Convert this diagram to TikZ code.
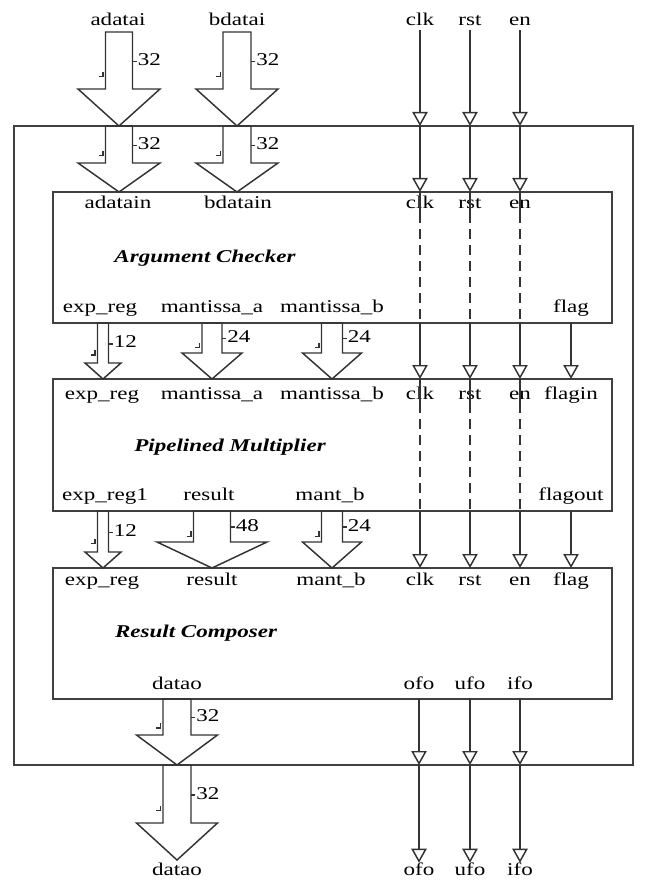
\documentclass[tikz,border=0pt]{standalone}
\usepackage{fontspec}
\setmainfont{Liberation Serif}[FakeStretch=1.28]
\usetikzlibrary{arrows.meta, positioning}

\tikzset{
    block/.style={draw=black!75, line width=1.2pt, inner sep=0pt, outer sep=0pt},
    busline/.style={draw=black!80, line width=1.1pt},
    sigline/.style={draw=black!80, line width=1.1pt},
    sig/.style={sigline, -{Triangle[open, length=10.5pt, width=11.5pt]}},
    sigdash/.style={sigline, dash pattern=on 7.5pt off 4.5pt},
    port/.style={inner sep=0pt, text height=9pt, text depth=3pt, font=\fontsize{13.5}{15}\selectfont},
    title/.style={inner sep=0pt, font=\fontsize{13.5}{15}\selectfont\bfseries\itshape}
}

% bus arrow: centre x, top y, head y, tip y, half shaft, half head, width
\newcommand{\busarrow}[7]{%
    \pgfmathsetmacro{\bxl}{#1-#5}\pgfmathsetmacro{\bxr}{#1+#5}%
    \pgfmathsetmacro{\bwl}{#1-#6}\pgfmathsetmacro{\bwr}{#1+#6}%
    \pgfmathsetmacro{\bym}{#2+0.52*(#3-#2)}\pgfmathsetmacro{\byt}{#2+0.75*(#3-#2)}%
    \draw[busline] (\bxl,#2) -- (\bxr,#2) -- (\bxr,#3) -- (\bwr,#3) -- (#1,#4)
        -- (\bwl,#3) -- (\bxl,#3) -- cycle;
    \draw[busline] (\bxr,\bym) -- ++(4,0) node[port, anchor=west, xshift=0.5pt] {#7};
    \draw[busline] (\bxl-7,\byt+2) -- (\bxl-2.5,\byt+2) -- (\bxl-2.5,\byt-3);
}

\begin{document}
\begin{tikzpicture}[x=0.75pt, y=-0.75pt]
    \useasboundingbox (0,0) rectangle (649,880);
    % Outer frame and the three blocks
    \node[block, minimum width=0.75*619pt, minimum height=0.75*639pt] (frame) at (323.5,445.5) {};
    \node[block, minimum width=0.75*559pt, minimum height=0.75*131pt] (check) at (332.5,257.5) {};
    \node[block, minimum width=0.75*559pt, minimum height=0.75*132pt] (mult) at (332.5,445) {};
    \node[block, minimum width=0.75*559pt, minimum height=0.75*131pt] (comp) at (332.5,633.5) {};
    \node[title] (checkname) at (205,258) {Argument Checker};
    \node[title] (multname) at (230,447) {Pipelined Multiplier};
    \node[title] (compname) at (196,633) {Result Composer};

    % Data ports
    \node[port] (adatai) at (118,22) {adatai};
    \node[port] (bdatai) at (237,22) {bdatai};
    \node[port] (adatain) at (118,205) {adatain};
    \node[port] (bdatain) at (238,205) {bdatain};
    \node[port] (cexp) at (100,308) {exp\_reg};
    \node[port] (cmanta) at (212,308) {mantissa\_a};
    \node[port] (cmantb) at (332,308) {mantissa\_b};
    \node[port] (cflag) at (571,308) {flag};
    \node[port] (mexp) at (102,395) {exp\_reg};
    \node[port] (mmanta) at (212,395) {mantissa\_a};
    \node[port] (mmantb) at (332,395) {mantissa\_b};
    \node[port] (mflagin) at (571,395) {flagin};
    \node[port] (mexpo) at (105,496) {exp\_reg1};
    \node[port] (mresult) at (209,496) {result};
    \node[port] (mmantbo) at (330,496) {mant\_b};
    \node[port] (mflagout) at (571,496) {flagout};
    \node[port] (rexp) at (102,581) {exp\_reg};
    \node[port] (rresult) at (212,581) {result};
    \node[port] (rmantb) at (331,581) {mant\_b};
    \node[port] (rflag) at (571,581) {flag};
    \node[port] (rdatao) at (177,685) {datao};
    \node[port] (datao) at (177,871) {datao};

    % Buses
    \busarrow{119}{32}{89}{126}{13.5}{41}{32}
    \busarrow{119}{126}{163}{192}{13.5}{41}{32}
    \busarrow{237}{32}{89}{126}{14}{41}{32}
    \busarrow{237}{126}{163}{192}{14}{41}{32}
    \busarrow{103}{323}{363}{379}{5.5}{18}{12}
    \busarrow{212}{323}{353}{379}{10}{30}{24}
    \busarrow{332}{323}{353}{379}{10.5}{29.5}{24}
    \busarrow{103}{511}{552}{568}{5.5}{18}{12}
    \busarrow{212}{511}{542}{568}{18.5}{55}{48}
    \busarrow{332}{511}{542}{568}{10.5}{29.5}{24}
    \busarrow{177}{699}{735}{765}{14}{40.5}{32}
    \busarrow{177}{765}{823}{860}{14}{40.5}{32}

    % Control signals
    \foreach \s/\x in {clk/420, rst/470, en/520} {
        \node[port] (\s0) at (\x,22) {\s};
        \node[port] (\s1) at (\x,205) {\s};
        \node[port] (\s2) at (\x,395) {\s};
        \node[port] (\s3) at (\x,581) {\s};
        \draw[sig] (\s0) -- (\s0 |- frame.north);
        \draw[sig] (\s0 |- frame.north) -- (\s0 |- check.north);
        \draw[sigline] (\s0 |- check.north) -- (\s1.south);
        \draw[sigdash] (\s1.south) -- (\s1 |- check.south);
        \draw[sig] (\s1 |- check.south) -- (\s1 |- mult.north);
        \draw[sigline] (\s2 |- mult.north) -- (\s2.south);
        \draw[sigdash] (\s2.south) -- (\s2 |- mult.south);
        \draw[sig] (\s2 |- mult.south) -- (\s3 |- comp.north);
    }
    \draw[sig] (cflag |- check.south) -- (mflagin |- mult.north);
    \draw[sig] (mflagout |- mult.south) -- (rflag |- comp.north);

    % Status outputs
    \foreach \s/\x in {ofo/419, ufo/470, ifo/520} {
        \node[port] (\s1) at (\x,685) {\s};
        \node[port] (\s2) at (\x,871) {\s};
        \draw[sig] (\s1 |- comp.south) -- (\s1 |- frame.south);
        \draw[sig] (\s2 |- frame.south) -- (\s2.north);
    }
\end{tikzpicture}
\end{document}
